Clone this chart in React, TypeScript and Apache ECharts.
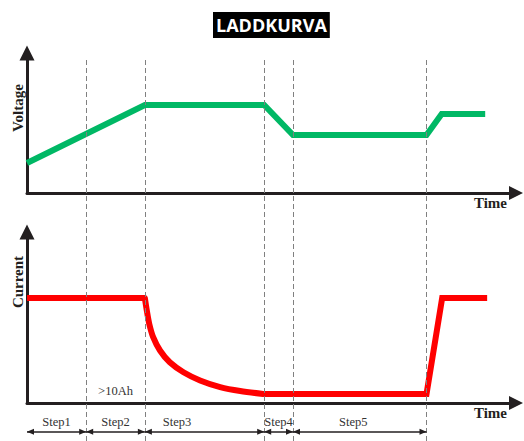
import React, { useEffect, useRef } from "react";
import * as echarts from "echarts";

const stepBounds = [0, 12.1, 24.1, 48.5, 54.4, 81.7];
const stepLabels = ["Step1", "Step2", "Step3", "Step4", "Step5"];
const voltageT = [0, 24.1, 48.5, 54.4, 81.7, 84.8, 93.7];
const voltageV = [2.14, 6.29, 6.29, 4.14, 4.14, 5.64, 5.64];
const currentT = [0, 24.1, 24.5, 25.0, 25.8, 27.2, 29.2, 32.0, 35.4, 39.5, 43.6, 48.3, 81.7, 84.9, 94.1];
const currentA = [6.14, 6.14, 5.41, 4.63, 3.85, 3.07, 2.38, 1.8, 1.32, 0.93, 0.7, 0.53, 0.53, 6.14, 6.14];
const curveStart = 1;
const curveEnd = 11;
const noteText = ">10Ah";
const notePos = [18.1, 0.7];
const arrowLevel = 2.4;

const AXIS = "#231f20";
// label placement (style): inset from arrow start in px, or null to center
const labelInset: (number | null)[] = [null, null, 18, null, 46];

export default function App() {
  const ref = useRef<HTMLDivElement>(null);
  useEffect(() => {
    if (!ref.current) return;
    const chart = echarts.init(ref.current, null, { renderer: "svg" });
    const axisX = (gridIndex: number, show: boolean) => ({
      type: "value",
      gridIndex,
      min: 0,
      max: 100,
      show,
      axisLine: show
        ? { show: true, symbol: ["none", "triangle"], symbolSize: [14, 14], lineStyle: { color: AXIS, width: 3 } }
        : { show: false },
      axisTick: { show: false },
      axisLabel: { show: false },
      splitLine: { show: false },
    });
    const axisY = (gridIndex: number, show: boolean) => ({
      type: "value",
      gridIndex,
      min: 0,
      max: show ? 10 : 100,
      show,
      axisLine: show
        ? { show: true, symbol: ["none", "triangle"], symbolSize: [15, 15], lineStyle: { color: AXIS, width: 3 } }
        : { show: false },
      axisTick: { show: false },
      axisLabel: { show: false },
      splitLine: { show: false },
    });
    const nameStyle = { fontFamily: "Liberation Serif", fontWeight: "bold", fontSize: 15, fill: AXIS };
    const pts = currentT.map((t, i) => [t, currentA[i]]);
    const redLine = (data: number[][], smooth: boolean) => ({
      type: "line",
      xAxisIndex: 1,
      yAxisIndex: 1,
      data,
      smooth: smooth ? 0.3 : false,
      showSymbol: false,
      symbol: "none",
      z: 3,
      lineStyle: { color: "#ff0000", width: 6, join: "miter", cap: smooth ? "round" : "butt" },
    });
    chart.setOption({
      animation: false,
      title: {
        text: "LADDKURVA",
        left: 213,
        top: 12,
        backgroundColor: "#000",
        padding: [2, 3],
        textStyle: { color: "#fff", fontFamily: "Open Sans", fontWeight: "bold", fontSize: 18, lineHeight: 22 },
      },
      grid: [
        { left: 27, right: 8, top: 53, bottom: 248 },
        { left: 27, right: 8, top: 232, bottom: 38 },
        { left: 27, right: 8, top: 60, bottom: 0 },
      ],
      xAxis: [axisX(0, true), axisX(1, true), axisX(2, false)],
      yAxis: [axisY(0, true), axisY(1, true), axisY(2, false)],
      graphic: [
        { type: "text", x: 18, y: 108, rotation: Math.PI / 2, style: { ...nameStyle, text: "Voltage", textAlign: "center", textVerticalAlign: "middle" } },
        { type: "text", x: 18, y: 282, rotation: Math.PI / 2, style: { ...nameStyle, text: "Current", textAlign: "center", textVerticalAlign: "middle" } },
        { type: "text", x: 507, y: 203, style: { ...nameStyle, text: "Time", textAlign: "right", textVerticalAlign: "middle" } },
        { type: "text", x: 507, y: 413, style: { ...nameStyle, text: "Time", textAlign: "right", textVerticalAlign: "middle" } },
      ],
      series: [
        {
          type: "line",
          xAxisIndex: 2,
          yAxisIndex: 2,
          data: [],
          z: 1,
          silent: true,
          markLine: {
            silent: true,
            animation: false,
            symbol: ["none", "none"],
            data: [
              ...stepBounds.slice(1).map((v) => ({
                xAxis: v,
                lineStyle: { color: "#808080", width: 1, type: [5, 3] },
                label: { show: false },
              })),
              ...stepLabels.map((name, i) => [
                {
                  coord: [stepBounds[i], arrowLevel],
                  symbol: "triangle",
                  symbolSize: [6, 7],
                  symbolOffset: [0, 3.5],
                  lineStyle: { color: AXIS, width: 1.5, type: "solid" },
                  label: {
                    show: true,
                    position: labelInset[i] == null ? "middle" : "insideStartTop",
                    formatter: name,
                    color: "#333",
                    fontFamily: "Liberation Serif",
                    fontSize: 12.5,
                    distance: labelInset[i] == null ? 3 : [labelInset[i], 3],
                  },
                },
                { coord: [stepBounds[i + 1], arrowLevel], symbol: "triangle", symbolSize: [6, 7], symbolOffset: [0, 3.5] },
              ]),
            ],
          },
        },
        {
          type: "line",
          xAxisIndex: 0,
          yAxisIndex: 0,
          data: voltageT.map((t, i) => [t, voltageV[i]]),
          showSymbol: false,
          symbol: "none",
          z: 3,
          lineStyle: { color: "#00b865", width: 6, join: "miter", cap: "butt" },
        },
        {
          ...redLine(pts.slice(0, curveStart + 1), false),
          markPoint: {
            symbol: "circle",
            symbolSize: 1,
            itemStyle: { color: "transparent" },
            label: { show: true, position: "inside", formatter: noteText, color: "#333", fontFamily: "Liberation Serif", fontSize: 12.5 },
            data: [{ coord: notePos }],
          },
        },
        redLine(pts.slice(curveStart, curveEnd + 1), true),
        redLine(pts.slice(curveEnd), false),
      ],
    });
    return () => chart.dispose();
  }, []);
  return <div ref={ref} style={{ position: "absolute", left: 0, top: 0, width: 524, height: 441 }} />;
}
